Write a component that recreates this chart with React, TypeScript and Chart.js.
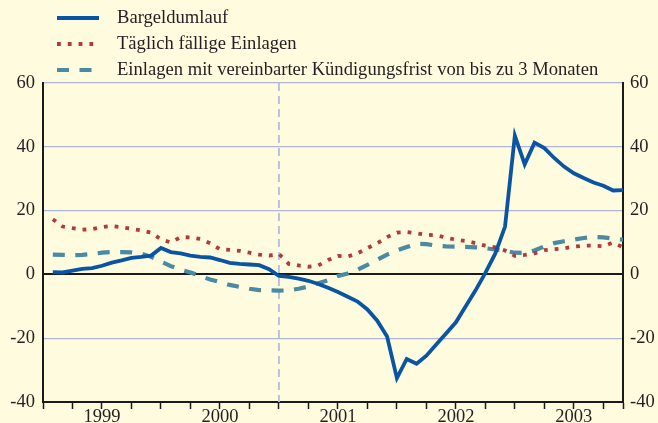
import React, { useEffect, useRef } from 'react';
import { Chart, registerables } from 'chart.js';

Chart.register(...registerables);

// Tick labels / categories
const yearLabels = ['1999', '2000', '2001', '2002', '2003'];
const quarterTicks = [0, 3, 6, 9, 12, 15, 18, 21, 24, 27, 30, 33, 36, 39, 42, 45, 48, 51, 54, 57, 59];
const yTicks = [-40, -20, 0, 20, 40, 60];
const seriesNames = [
  'Bargeldumlauf',
  'Täglich fällige Einlagen',
  'Einlagen mit vereinbarter Kündigungsfrist von bis zu 3 Monaten',
];

// Monthly observations, Jan 1999 (position 1) .. Nov 2003 (position 59)
const bargeld = [
  0.7, 0.6, 1.2, 1.7, 2.0, 2.7, 3.7, 4.4, 5.2, 5.5, 5.9, 8.3,
  7.0, 6.6, 5.9, 5.5, 5.3, 4.5, 3.6, 3.3, 3.1, 2.9, 1.6, -0.5,
  -0.8, -1.3, -2.0, -3.0, -4.2, -5.5, -7.0, -8.5, -11.0, -14.5, -19.5, -32.5,
  -26.5, -28.0, -25.5, -22.0, -18.5, -15.0, -10.0, -5.0, 0.5, 6.5, 15.0, 43.5,
  34.5, 41.3, 39.6, 36.5, 33.8, 31.7, 30.2, 28.8, 27.8, 26.3, 26.4,
];
const taeglich = [
  17.3, 15.0, 14.5, 14.0, 14.2, 14.8, 15.2, 14.8, 14.3, 13.8, 13.1, 11.0,
  10.0, 11.7, 11.6, 11.1, 9.8, 7.9, 7.7, 7.4, 6.8, 6.2, 5.9, 6.4,
  3.3, 2.8, 2.4, 2.8, 4.5, 5.8, 5.6, 6.6, 8.2, 9.8, 11.7, 13.1,
  13.3, 12.9, 12.4, 12.3, 11.5, 10.9, 10.5, 9.8, 9.0, 8.5, 7.5, 5.8,
  6.1, 6.6, 7.6, 7.9, 8.2, 8.7, 9.0, 9.0, 8.8, 10.0, 8.5,
];
const kuendigung = [
  6.2, 6.1, 6.0, 6.1, 6.4, 6.8, 7.0, 7.0, 6.9, 6.5, 5.5, 4.0,
  2.6, 1.5, 0.6, -0.5, -1.6, -2.4, -3.3, -3.9, -4.5, -4.9, -5.0, -5.1,
  -5.0, -4.5, -3.8, -2.8, -1.8, -0.5, 0.3, 1.5, 3.0, 4.6, 6.2, 7.5,
  8.6, 9.6, 9.5, 9.0, 8.8, 8.7, 8.6, 8.5, 8.2, 7.8, 7.4, 6.8,
  6.7, 7.5, 8.8, 9.8, 10.4, 10.9, 11.4, 11.7, 11.6, 11.2, 10.9,
];
const euroCashMonth = 24; // dashed vertical marker (Jan 2001 boundary)

const BG = '#fefbdf';
const BLUE = '#0a55a3';
const RED = '#b23a3a';
const TEAL = '#4a8aa2';
const GRID = '#aeb7d3';
const TEXT = '#231f20';
const FONT = "'Liberation Serif', 'Times New Roman', serif";

const styles = [
  { color: BLUE, width: 3.8, dash: [] as number[] },
  { color: RED, width: 3.8, dash: [3.8, 7.0] },
  { color: TEAL, width: 4.2, dash: [12, 10.5] },
];

const toPoints = (arr: number[]) => arr.map((v, i) => ({ x: i + 1, y: v }));

export default function App() {
  const ref = useRef<HTMLCanvasElement | null>(null);

  useEffect(() => {
    document.body.style.margin = '0';
    document.body.style.background = BG;
    if (!ref.current) return;

    const markerPlugin = {
      id: 'marker',
      beforeDatasetsDraw(chart: any) {
        const { ctx, chartArea, scales } = chart;
        const x = scales.x.getPixelForValue(euroCashMonth);
        ctx.save();
        ctx.strokeStyle = '#b9c2da';
        ctx.lineWidth = 2;
        ctx.setLineDash([8, 5]);
        ctx.beginPath();
        ctx.moveTo(x, chartArea.top);
        ctx.lineTo(x, chartArea.bottom);
        ctx.stroke();
        ctx.restore();
      },
    };

    const legendPlugin = {
      id: 'customLegend',
      afterDraw(chart: any) {
        const { ctx } = chart;
        const rows = [18, 44, 70];
        ctx.save();
        seriesNames.forEach((name, i) => {
          const y = rows[i];
          const s = styles[i];
          ctx.strokeStyle = s.color;
          ctx.lineWidth = s.width;
          ctx.setLineDash(s.dash);
          ctx.lineCap = 'butt';
          ctx.beginPath();
          ctx.moveTo(57, y);
          ctx.lineTo(99, y);
          ctx.stroke();
          ctx.setLineDash([]);
          ctx.fillStyle = TEXT;
          ctx.font = `18.6px ${FONT}`;
          ctx.textBaseline = 'middle';
          ctx.textAlign = 'left';
          ctx.fillText(name, 117, y);
        });
        ctx.restore();
      },
    };

    const yGridColor = (c: any) => (c.tick && (c.tick.value === 0 || c.tick.value === -40) ? '#1a1a1a' : GRID);
    const yGridWidth = (c: any) => (c.tick && c.tick.value === 0 ? 2 : 1.3);

    const chart = new Chart(ref.current, {
      type: 'line',
      data: {
        datasets: [bargeld, taeglich, kuendigung].map((arr, i) => ({
          label: seriesNames[i],
          data: toPoints(arr),
          borderColor: styles[i].color,
          borderWidth: styles[i].width,
          borderDash: styles[i].dash,
          borderCapStyle: 'butt',
          borderJoinStyle: 'miter',
          pointRadius: 0,
          tension: 0,
          fill: false,
          yAxisID: 'y',
        })),
      },
      options: {
        animation: false,
        responsive: true,
        maintainAspectRatio: false,
        layout: { padding: { top: 83, left: 0, right: 0, bottom: 0 } },
        plugins: { legend: { display: false }, tooltip: { enabled: false } },
        scales: {
          x: {
            type: 'linear',
            min: 0,
            max: 59,
            afterBuildTicks: (s: any) => {
              s.ticks = quarterTicks.map((v) => ({ value: v }));
            },
            afterFit: (s: any) => {
              s.height = 21;
            },
            ticks: {
              autoSkip: false,
              maxRotation: 0,
              padding: -3,
              color: TEXT,
              font: { family: FONT, size: 18.5 },
              callback: (v: any) => {
                const n = Number(v);
                return n % 12 === 6 ? yearLabels[(n - 6) / 12] : '';
              },
            },
            grid: { drawOnChartArea: false, drawTicks: true, tickLength: 7, tickColor: '#1a1a1a', tickWidth: 1.5 },
            border: { display: true, color: '#1a1a1a', width: 2 },
          },
          y: {
            position: 'left',
            min: -40,
            max: 60,
            afterBuildTicks: (s: any) => {
              s.ticks = yTicks.map((v) => ({ value: v }));
            },
            afterFit: (s: any) => {
              s.width = 43;
            },
            ticks: { padding: 8, color: TEXT, font: { family: FONT, size: 18.5 } },
            grid: { color: yGridColor, lineWidth: yGridWidth, drawTicks: false },
            border: { display: true, color: '#1a1a1a', width: 2 },
          },
          y2: {
            position: 'right',
            min: -40,
            max: 60,
            afterBuildTicks: (s: any) => {
              s.ticks = yTicks.map((v) => ({ value: v }));
            },
            afterFit: (s: any) => {
              s.width = 35;
            },
            ticks: { padding: 7, color: TEXT, font: { family: FONT, size: 18.5 } },
            grid: { drawOnChartArea: false, drawTicks: false },
            border: { display: true, color: '#1a1a1a', width: 2 },
          },
        },
      } as any,
      plugins: [markerPlugin, legendPlugin],
    });

    return () => chart.destroy();
  }, []);

  return (
    <div style={{ width: 658, height: 423, background: BG, position: 'relative' }}>
      <canvas ref={ref} />
    </div>
  );
}
